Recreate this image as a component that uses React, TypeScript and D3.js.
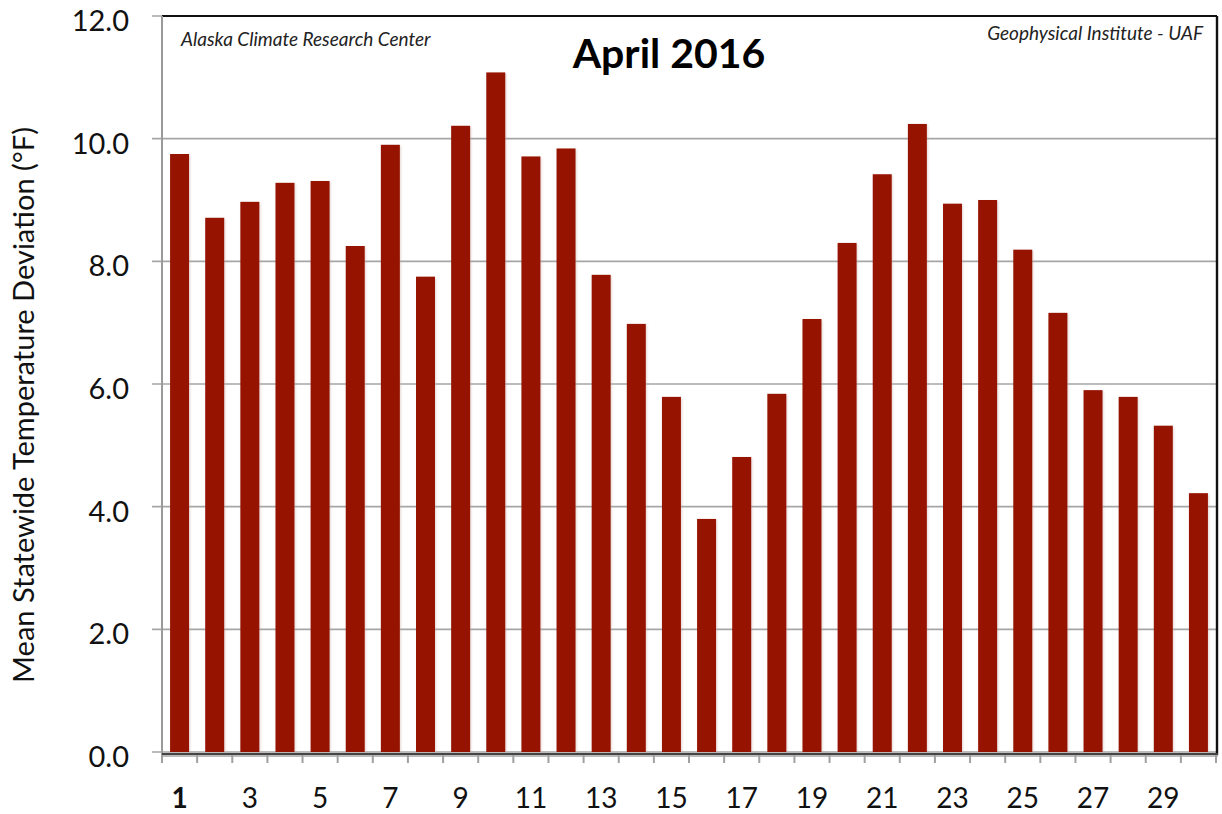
import React from "react";
import * as d3 from "d3";

const days: number[] = d3.range(1, 31);
const deviations: number[] = [
  9.75, 8.71, 8.97, 9.28, 9.31, 8.25, 9.9, 7.75, 10.21, 11.08,
  9.71, 9.84, 7.78, 6.98, 5.79, 3.8, 4.81, 5.84, 7.06, 8.3,
  9.42, 10.24, 8.94, 9.0, 8.19, 7.16, 5.9, 5.79, 5.32, 4.22,
];
const yTicks: number[] = [0, 2, 4, 6, 8, 10, 12];
const xLabelDays: number[] = [1, 3, 5, 7, 9, 11, 13, 15, 17, 19, 21, 23, 25, 27, 29];
const title = "April 2016";
const leftCredit = "Alaska Climate Research Center";
const rightCredit = "Geophysical Institute - UAF";
const yTitle = "Mean Statewide Temperature Deviation (°F)";

const W = 1222;
const H = 814;
const L = 162, R = 1216, T = 16, B = 752;
const FONT = "Lato, 'Open Sans', sans-serif";

export default function App() {
  const x = d3.scaleBand<number>().domain(days).range([L, R]).paddingInner(0.46).paddingOuter(0.23);
  const xb = d3.scaleLinear().domain([0, days.length]).range([L, R]);
  const y = d3.scaleLinear().domain([0, 12]).range([B, T]);
  return (
    <svg width={W} height={H} style={{ position: "absolute", left: 0, top: 0, background: "#fff" }}>
      <defs>
        <filter id="sh" x="-20%" y="-5%" width="140%" height="110%">
          <feGaussianBlur stdDeviation="0.8" />
        </filter>
      </defs>
      {yTicks.map((t) => (
        <line key={"g" + t} x1={152} x2={R} y1={y(t)} y2={y(t)} stroke="#a6a6a6" strokeWidth={1.6} />
      ))}
      <line x1={L} x2={R + 1} y1={T} y2={T} stroke="#111" strokeWidth={1.8} />
      <line x1={R + 3} x2={R + 3} y1={T + 3} y2={B + 5} stroke="#999" strokeWidth={2} filter="url(#sh)" />
      <line x1={R + 1} x2={R + 1} y1={T} y2={B + 3} stroke="#111" strokeWidth={2.4} />
      <line x1={L} x2={L} y1={T} y2={B + 10} stroke="#9a9a9a" strokeWidth={2} />
      {deviations.map((v, i) => (
        <g key={"b" + i}>
          <rect x={x(days[i])! + 1} y={y(v) + 1} width={x.bandwidth()} height={y(0) - y(v)} fill="#c9a9a3" opacity={0.5} filter="url(#sh)" />
          <rect x={x(days[i])} y={y(v)} width={x.bandwidth()} height={y(0) - y(v)} fill="#961300" />
        </g>
      ))}
      <line x1={L} x2={R + 2} y1={B + 4} y2={B + 4} stroke="#bbb" strokeWidth={2} />
      <line x1={L} x2={R + 2} y1={B + 2} y2={B + 2} stroke="#444" strokeWidth={2.2} />
      {d3.range(0, days.length + 1).map((k) => (
        <line key={"t" + k} x1={xb(k)} x2={xb(k)} y1={B + 3} y2={B + 11} stroke="#a0a0a0" strokeWidth={2} />
      ))}
      {yTicks.map((t) => (
        <text key={"yl" + t} x={129} y={y(t) + 15} textAnchor="end" fontFamily={FONT} fontSize={29} fill="#111">
          {t.toFixed(1)}
        </text>
      ))}
      {xLabelDays.map((d) => (
        <text key={"xl" + d} x={x(d)! + x.bandwidth() / 2} y={808} textAnchor="middle" fontFamily={FONT} fontSize={28} fontWeight={d === 1 ? 700 : 400} fill="#111">
          {d}
        </text>
      ))}
      <text transform={`translate(34,405) rotate(-90)`} textAnchor="middle" fontFamily={FONT} fontSize={29} fill="#111">
        {yTitle}
      </text>
      <text x={669} y={68} textAnchor="middle" fontFamily={FONT} fontSize={41} fontWeight={700} fill="#000">
        {title}
      </text>
      <text x={181} y={46} fontFamily={FONT} fontSize={19} fontStyle="italic" fill="#222">
        {leftCredit}
      </text>
      <text x={1203} y={40} textAnchor="end" fontFamily={FONT} fontSize={19} fontStyle="italic" fill="#222">
        {rightCredit}
      </text>
    </svg>
  );
}
